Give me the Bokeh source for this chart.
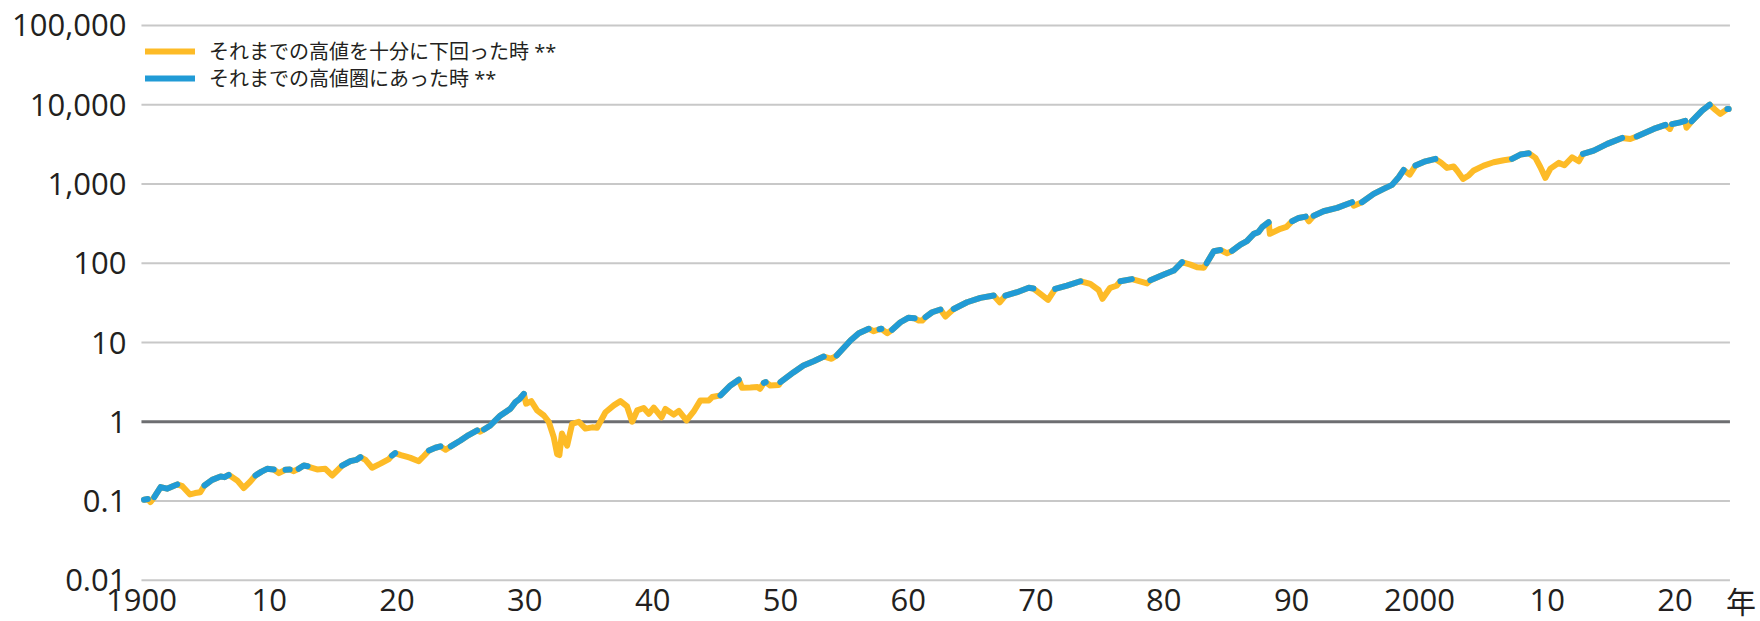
from bokeh.plotting import figure
from bokeh.models import Range1d, Legend, LegendItem
from bokeh.core.properties import value
from bokeh.embed import file_html
from bokeh.resources import INLINE

# ---- data ----
# state: 1 = near previous high (blue), 0 = well below previous high (orange)
years = [
    1900.2, 1900.5, 1900.7, 1901.0, 1901.5, 1902.0, 1902.5, 1902.8, 1903.2, 1903.8,
    1904.2, 1904.6, 1904.93, 1905.53, 1906.19, 1906.5, 1906.83, 1907.49, 1908.0, 1908.5,
    1908.92, 1909.4, 1909.83, 1910.35, 1910.75, 1911.27, 1911.6, 1911.92, 1912.3, 1912.7,
    1913.0, 1913.22, 1913.74, 1914.39, 1914.92, 1915.4, 1915.7, 1916.35, 1916.8, 1917.14,
    1917.53, 1918.05, 1918.7, 1919.36, 1919.6, 1919.85, 1920.3, 1920.8, 1921.05, 1921.7,
    1922.1, 1922.5, 1923.0, 1923.4, 1923.8, 1924.2, 1924.96, 1925.6, 1926.27, 1926.5,
    1926.8, 1927.3, 1928.09, 1928.87, 1929.26, 1929.6, 1929.92, 1930.1, 1930.5, 1930.96,
    1931.49, 1931.87, 1932.26, 1932.53, 1932.7, 1932.9, 1933.31, 1933.7, 1934.22, 1934.74,
    1935.26, 1935.65, 1936.31, 1936.96, 1937.48, 1938.0, 1938.4, 1938.79, 1939.3, 1939.7,
    1940.09, 1940.7, 1941.0, 1941.65, 1942.05, 1942.65, 1943.2, 1943.74, 1944.4, 1944.66,
    1945.31, 1946.09, 1946.74, 1947.0, 1947.65, 1948.2, 1948.4, 1948.7, 1948.85, 1949.2,
    1949.87, 1950.0, 1951.04, 1951.8, 1952.6, 1953.39, 1954.0, 1954.4, 1955.48, 1956.13,
    1956.91, 1957.3, 1957.75, 1957.9, 1958.35, 1958.74, 1959.39, 1960.0, 1960.5, 1960.83,
    1961.09, 1961.35, 1961.87, 1962.52, 1962.91, 1963.2, 1963.56, 1964.6, 1965.65, 1966.69,
    1967.16, 1967.6, 1968.52, 1969.43, 1969.8, 1970.34, 1970.94, 1971.5, 1972.42, 1973.47,
    1974.25, 1974.9, 1975.2, 1975.8, 1976.3, 1976.6, 1977.5, 1978.0, 1978.69, 1978.95,
    1980.0, 1980.78, 1981.43, 1982.08, 1982.6, 1983.13, 1983.35, 1983.91, 1984.43, 1984.95,
    1985.34, 1986.0, 1986.5, 1987.04, 1987.4, 1987.69, 1988.2, 1988.3, 1989.12, 1989.6,
    1990.04, 1990.56, 1991.1, 1991.35, 1991.73, 1992.5, 1993.56, 1994.73, 1994.86, 1995.5,
    1996.42, 1997.2, 1997.86, 1998.38, 1998.77, 1999.24, 1999.69, 2000.47, 2001.25, 2001.7,
    2002.16, 2002.68, 2002.94, 2003.42, 2003.86, 2004.25, 2005.03, 2005.81, 2006.6, 2007.25,
    2007.9, 2008.56, 2009.08, 2009.47, 2009.86, 2010.25, 2010.9, 2011.35, 2011.95, 2012.47,
    2012.8, 2013.64, 2014.7, 2015.86, 2016.5, 2017.0, 2018.33, 2019.25, 2019.6, 2019.77,
    2020.4, 2020.8, 2020.9, 2021.3, 2022.12, 2022.72, 2023.17, 2023.55, 2023.94, 2024.1,
    2024.2,
]
values = [
    0.104, 0.106, 0.097, 0.112, 0.150, 0.143, 0.155, 0.162, 0.154, 0.121,
    0.126, 0.129, 0.157, 0.185, 0.204, 0.200, 0.214, 0.182, 0.146, 0.175,
    0.210, 0.235, 0.255, 0.250, 0.225, 0.248, 0.250, 0.238, 0.255, 0.281,
    0.275, 0.265, 0.250, 0.255, 0.210, 0.250, 0.280, 0.319, 0.330, 0.358,
    0.330, 0.263, 0.296, 0.338, 0.375, 0.402, 0.380, 0.360, 0.350, 0.318,
    0.370, 0.435, 0.470, 0.489, 0.444, 0.489, 0.580, 0.680, 0.777, 0.750,
    0.800, 0.898, 1.20, 1.46, 1.77, 1.95, 2.25, 1.69, 1.82, 1.39,
    1.20, 1.00, 0.64, 0.39, 0.38, 0.71, 0.50, 0.94, 1.00, 0.82,
    0.85, 0.84, 1.32, 1.61, 1.82, 1.56, 1.00, 1.39, 1.49, 1.26,
    1.51, 1.14, 1.45, 1.23, 1.37, 1.04, 1.34, 1.86, 1.86, 2.05,
    2.15, 2.87, 3.39, 2.68, 2.70, 2.74, 2.60, 3.10, 3.16, 2.87,
    2.90, 3.16, 4.22, 5.13, 5.81, 6.66, 6.22, 6.85, 10.6, 13.1,
    14.9, 13.9, 14.7, 14.9, 13.1, 14.5, 18.0, 20.5, 20.2, 18.9,
    18.9, 20.9, 24.1, 26.1, 21.3, 23.5, 26.5, 32.2, 36.6, 39.1,
    32.2, 39.0, 43.1, 49.0, 48.0, 41.1, 34.5, 47.5, 52.3, 59.3,
    55.0, 46.0, 35.6, 49.0, 52.0, 59.3, 63.0, 60.0, 55.7, 61.0,
    72.1, 80.9, 103, 96, 89, 88, 100, 142, 147, 134,
    143, 172, 190, 235, 247, 285, 329, 235, 272, 288,
    339, 373, 388, 339, 398, 453, 500, 589, 533, 589,
    750, 867, 975, 1216, 1506, 1315, 1706, 1932, 2071, 1850,
    1596, 1660, 1480, 1159, 1280, 1480, 1706, 1880, 1995, 2071,
    2350, 2440, 2135, 1627, 1194, 1563, 1846, 1722, 2172, 1936,
    2399, 2637, 3206, 3812, 3700, 3980, 4955, 5560, 4955, 5700,
    6000, 6250, 5130, 6170, 8430, 10000, 8590, 7650, 8500, 8850,
    8850,
]
state = [
    1, 1, 0, 1, 1, 1, 1, 1, 0, 0,
    0, 0, 1, 1, 1, 1, 1, 0, 0, 0,
    1, 1, 1, 1, 0, 1, 1, 0, 1, 1,
    1, 0, 0, 0, 0, 0, 1, 1, 1, 1,
    0, 0, 0, 0, 1, 1, 0, 0, 0, 0,
    0, 1, 1, 1, 0, 1, 1, 1, 1, 0,
    1, 1, 1, 1, 1, 1, 1, 0, 0, 0,
    0, 0, 0, 0, 0, 0, 0, 0, 0, 0,
    0, 0, 0, 0, 0, 0, 0, 0, 0, 0,
    0, 0, 0, 0, 0, 0, 0, 0, 0, 0,
    1, 1, 1, 0, 0, 0, 0, 1, 1, 0,
    0, 1, 1, 1, 1, 1, 0, 1, 1, 1,
    1, 0, 1, 1, 0, 1, 1, 1, 1, 0,
    0, 1, 1, 1, 0, 0, 1, 1, 1, 1,
    0, 1, 1, 1, 1, 0, 0, 1, 1, 1,
    0, 0, 0, 0, 0, 1, 1, 0, 0, 1,
    1, 1, 1, 0, 0, 0, 1, 1, 1, 0,
    1, 1, 1, 1, 1, 1, 1, 0, 0, 0,
    1, 1, 1, 0, 1, 1, 1, 1, 0, 1,
    1, 1, 1, 1, 1, 0, 1, 1, 1, 0,
    0, 0, 0, 0, 0, 0, 0, 0, 0, 1,
    1, 1, 0, 0, 0, 0, 0, 0, 0, 0,
    1, 1, 1, 1, 0, 1, 1, 1, 0, 1,
    1, 1, 0, 1, 1, 1, 0, 0, 0, 1,
    1,
]

legend_labels = ["それまでの高値を十分に下回った時 **", "それまでの高値圏にあった時 **"]
y_ticks = [0.01, 0.1, 1, 10, 100, 1000, 10000, 100000]
y_tick_labels = ["0.01", "0.1", "1", "10", "100", "1,000", "10,000", "100,000"]
x_ticks = [1900, 1910, 1920, 1930, 1940, 1950, 1960, 1970, 1980, 1990, 2000, 2010, 2020]
x_tick_labels = ["1900", "10", "20", "30", "40", "50", "60", "70", "80", "90", "2000", "10", "20"]
x_unit_label = "年"

# ---- layout constants ----
X_START, X_GRID_END = 1900, 2024.3            # extent of the horizontal grid lines
X_VIEW = (1888.97, 2026.69)                    # whole canvas width in years
Y_VIEW = (10 ** -2.52, 10 ** 5.315)            # whole canvas height (log scale)
LABEL_Y = 10 ** -2.243                         # level of the year labels
ORANGE = "#FDBB27"
BLUE = "#219BD6"
TEXT = "#231F20"
GRID = "#C8C8C8"
UNITY = "#6D6E71"

# ---- blue runs ----
blue_xs, blue_ys = [], []
cur_x, cur_y = [], []
for x, y, s in zip(years, values, state):
    if s == 1:
        cur_x.append(x)
        cur_y.append(y)
    else:
        if cur_x:
            if len(cur_x) == 1:
                cur_x.append(cur_x[0]); cur_y.append(cur_y[0])
            blue_xs.append(cur_x); blue_ys.append(cur_y)
        cur_x, cur_y = [], []
if cur_x:
    if len(cur_x) == 1:
        cur_x.append(cur_x[0]); cur_y.append(cur_y[0])
    blue_xs.append(cur_x); blue_ys.append(cur_y)

p = figure(width=1760, height=621,
           x_range=Range1d(*X_VIEW), y_range=Range1d(*Y_VIEW),
           y_axis_type="log", output_backend="svg", toolbar_location=None,
           min_border_left=0, min_border_right=0, min_border_top=0, min_border_bottom=0)
p.outline_line_color = None
p.background_fill_color = "white"
p.border_fill_color = "white"
p.xgrid.visible = False
p.ygrid.visible = False
p.xaxis.visible = False
p.yaxis.visible = False

# horizontal grid lines (the line at 1 is darker)
grid_colors = [UNITY if t == 1 else GRID for t in y_ticks]
grid_widths = [3 if t == 1 else 2 for t in y_ticks]
p.segment(x0=[X_START] * len(y_ticks), x1=[X_GRID_END] * len(y_ticks),
          y0=y_ticks, y1=y_ticks, line_color=grid_colors, line_width=grid_widths)

# value labels on the left
p.text(x=[X_START] * len(y_ticks), y=y_ticks, text=y_tick_labels,
       text_align="right", text_baseline="middle", x_offset=-15,
       text_font=value("Open Sans"), text_font_size="31px", text_color=TEXT)

r_orange = p.line(years, values, line_color=ORANGE, line_width=6,
                  line_cap="round", line_join="round")
r_blue = p.multi_line(blue_xs, blue_ys, line_color=BLUE, line_width=6,
                      line_cap="round", line_join="round")

# year labels along the bottom, and the unit 年
p.text(x=x_ticks, y=[LABEL_Y] * len(x_ticks), text=x_tick_labels,
       text_align="center", text_baseline="middle",
       text_font=value("Open Sans"), text_font_size="31px", text_color=TEXT)
p.text(x=[X_GRID_END], y=[LABEL_Y], text=[x_unit_label],
       text_align="left", text_baseline="middle", x_offset=-4,
       text_font=value("Noto Sans CJK JP"), text_font_size="30px", text_color=TEXT)

common = dict(padding=0, margin=0, spacing=0, glyph_width=50, glyph_height=28,
              label_height=28, label_standoff=14,
              label_text_font="Open Sans, Noto Sans CJK JP",
              label_text_font_size="20px", label_text_color=TEXT,
              border_line_color=None, background_fill_alpha=0)
leg1 = Legend(items=[LegendItem(label=legend_labels[0], renderers=[r_orange])],
              location=(145, 556), **common)
leg2 = Legend(items=[LegendItem(label=legend_labels[1], renderers=[r_blue])],
              location=(145, 529), **common)
p.add_layout(leg1)
p.add_layout(leg2)

open("out.html", "w").write(file_html(p, INLINE))
